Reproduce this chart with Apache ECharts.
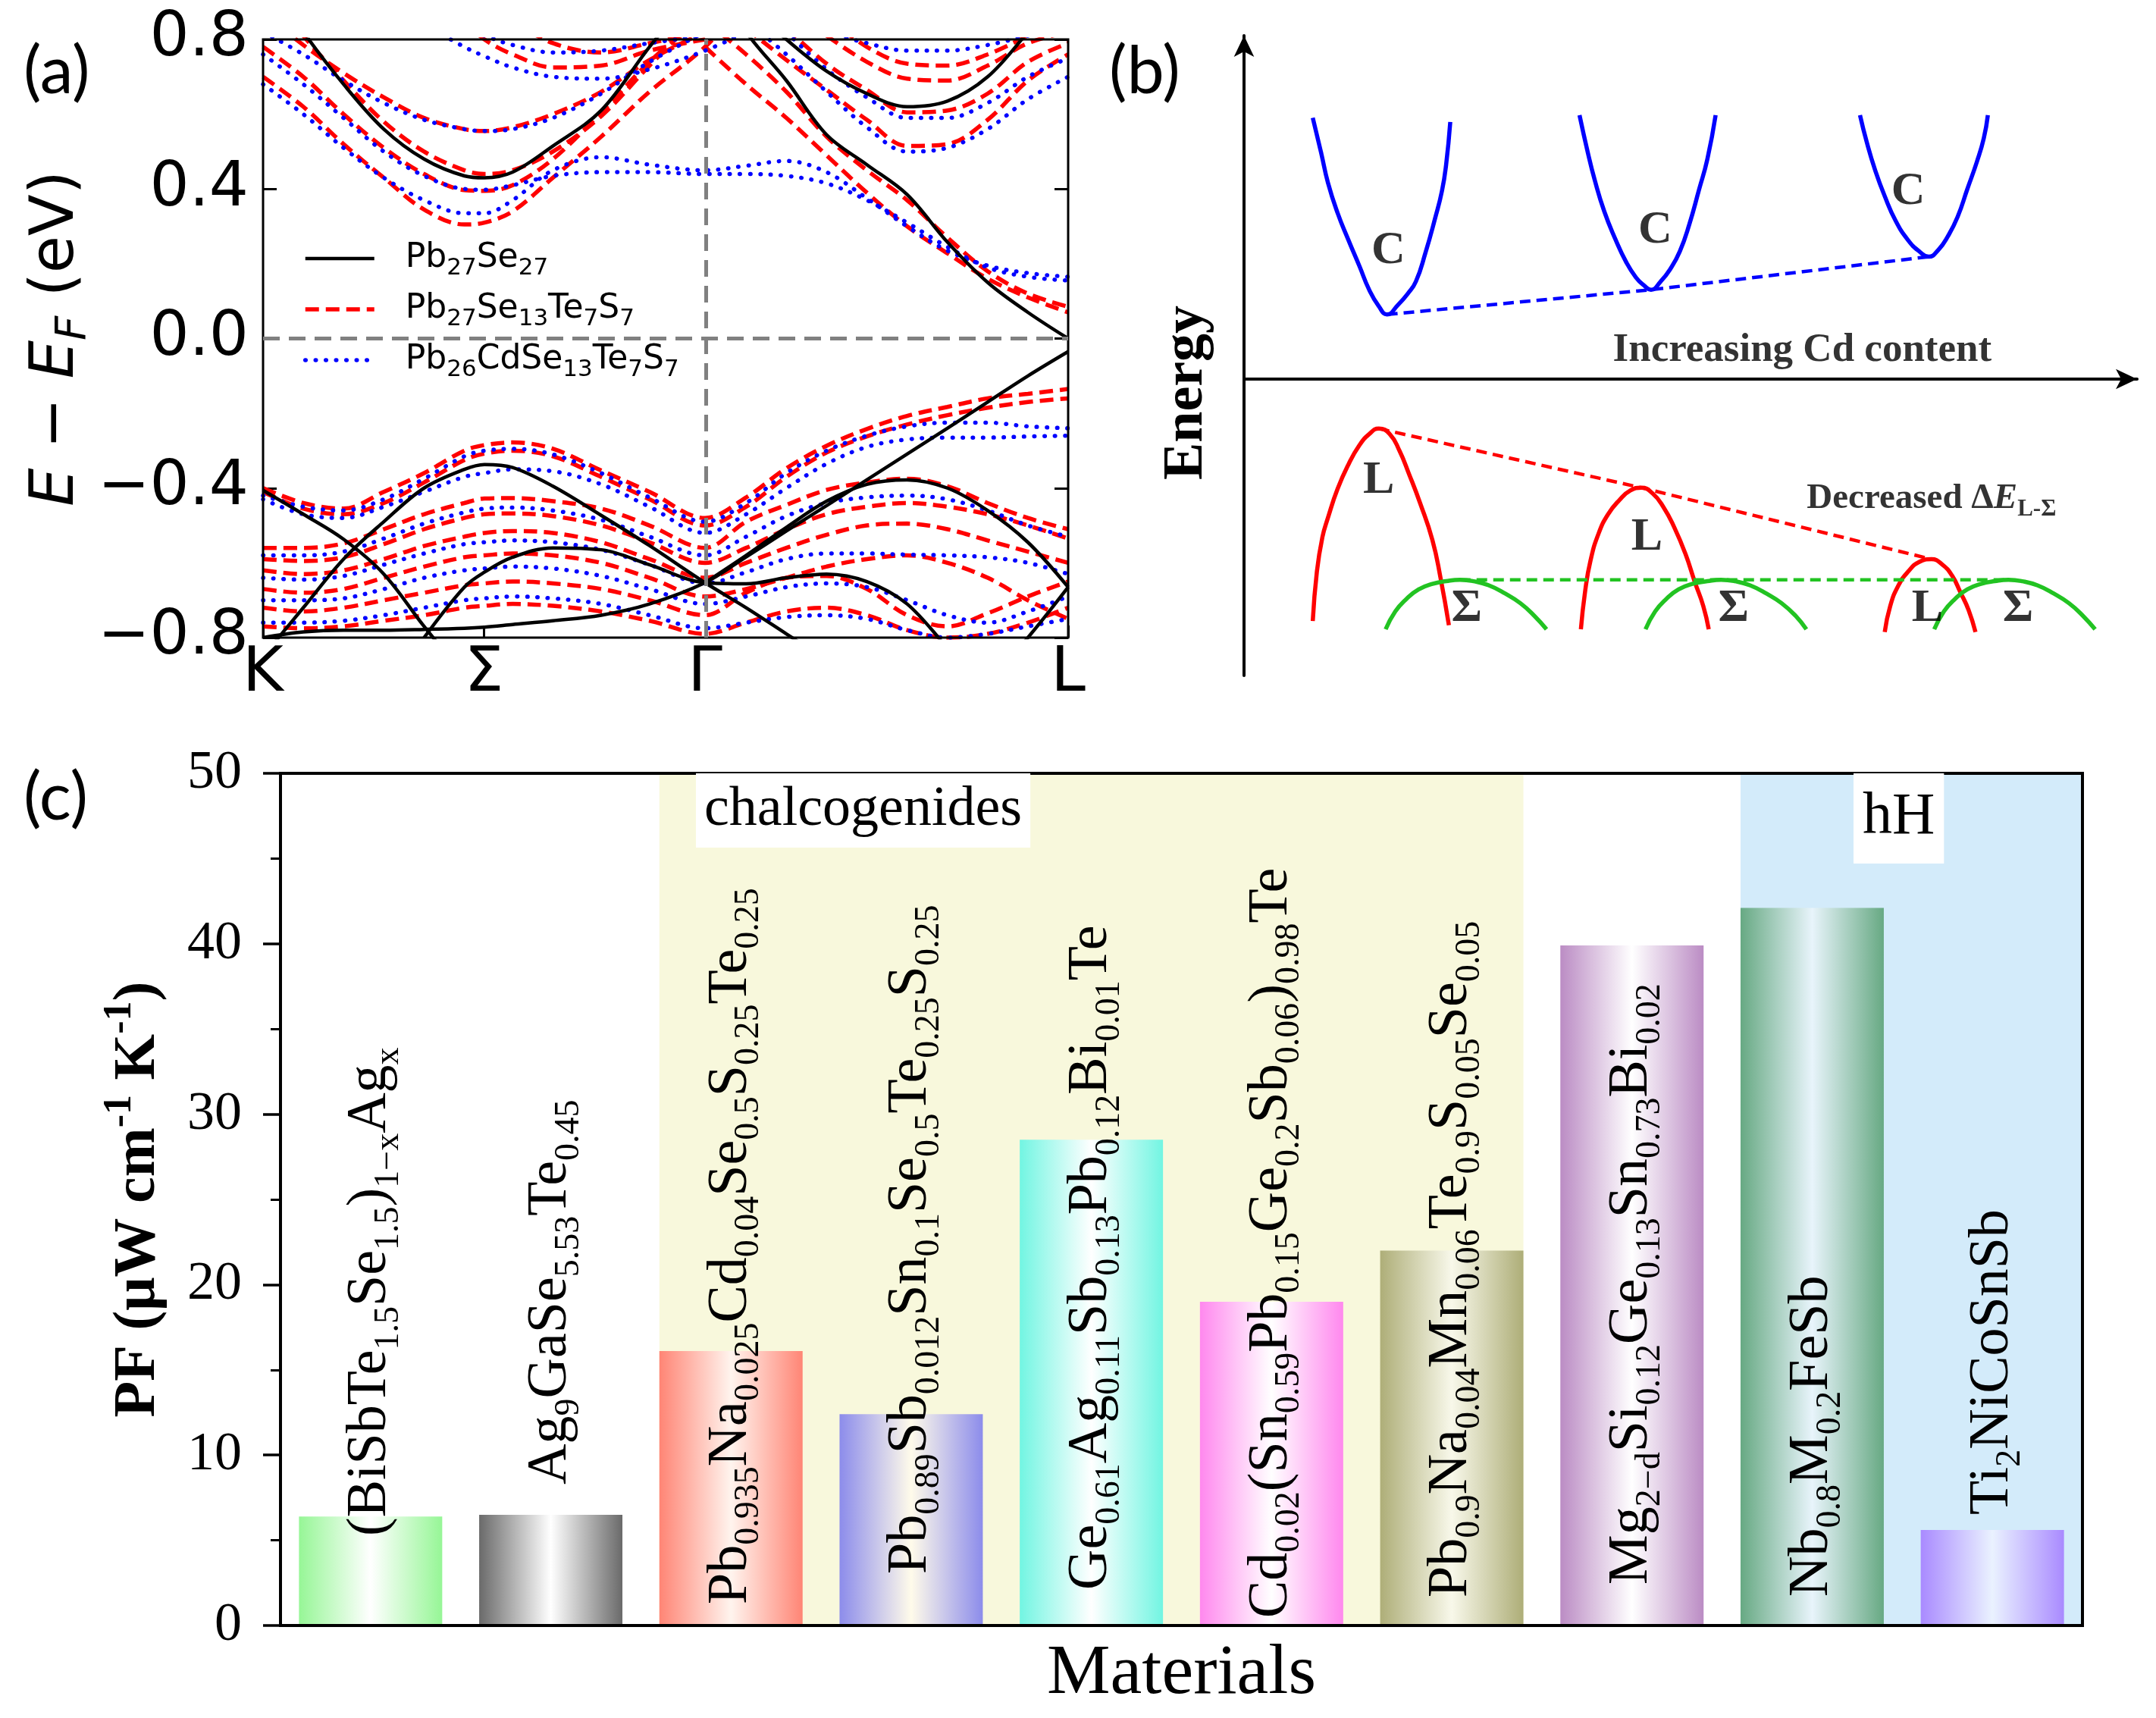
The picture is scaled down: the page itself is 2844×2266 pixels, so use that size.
<!DOCTYPE html>
<html>
<head>
<meta charset="utf-8">
<script src="https://cdn.jsdelivr.net/npm/echarts@6/dist/echarts.min.js"></script>
<style>html,body{margin:0;padding:0;background:#fff}#chart{width:2844px;height:2266px}</style>
</head>
<body>
<div id="chart"></div>
<script>
// ---------------- DATA ----------------
// (a) band structure: k-path positions and energies (eV)
const kPath = [0, 0.05, 0.10, 0.15, 0.20, 0.25, 0.275, 0.31, 0.36, 0.42, 0.48, 0.549, 0.60, 0.65, 0.70, 0.75, 0.80, 0.85, 0.90, 0.95, 1.0];
const kTickPos = [0, 0.2745, 0.549, 1];
const kTickNames = ['K', 'Σ', 'Γ', 'L'];
const n = null;
const bandsPb27Se27 = [
  [0.98,0.82,0.68,0.56,0.48,0.435,0.43,0.445,0.515,0.61,0.78,0.96,n,n,n,n,n,n,n,n,n],
  [n,n,n,n,n,n,n,n,n,n,n,1.0,0.82,0.69,0.545,0.465,0.385,0.258,0.15,0.07,0.0],
  [n,n,n,n,n,n,n,n,n,n,n,n,0.9,0.80,0.715,0.655,0.62,0.635,0.70,0.82,0.95],
  [-0.80,-0.785,-0.78,-0.78,-0.778,-0.775,-0.772,-0.765,-0.755,-0.74,-0.71,-0.653,-0.584,-0.515,-0.447,-0.378,-0.309,-0.24,-0.17,-0.10,-0.035],
  [-0.85,-0.72,-0.59,-0.49,-0.40,-0.35,-0.337,-0.345,-0.395,-0.473,-0.554,-0.653,-0.72,-0.79,-0.86,n,n,n,n,n,n],
  [-0.406,-0.47,-0.537,-0.63,-0.77,-0.9,n,n,n,n,n,n,n,n,n,n,n,n,n,n,n],
  [n,n,n,n,-0.80,-0.665,-0.625,-0.585,-0.56,-0.565,-0.605,-0.653,-0.656,-0.64,-0.63,-0.65,-0.71,-0.83,n,n,n],
  [n,n,n,n,n,n,n,n,n,n,n,-0.653,-0.58,-0.505,-0.435,-0.39,-0.378,-0.40,-0.46,-0.545,-0.665],
  [n,n,n,n,n,n,n,n,n,n,n,n,n,n,n,n,n,n,-0.92,-0.80,-0.665]
];
const bandsPb27Se13Te7S7 = [
  [0.70,0.62,0.52,0.43,0.345,0.305,0.31,0.34,0.43,0.54,0.66,0.78,0.9,n,n,n,n,n,n,n,n],
  [0.78,0.70,0.60,0.51,0.44,0.397,0.395,0.41,0.48,0.605,0.74,0.87,n,n,n,n,n,n,n,n,n],
  [0.95,0.81,0.69,0.58,0.50,0.45,0.44,0.45,0.50,0.595,0.73,0.88,n,n,n,n,n,n,n,n,n],
  [0.87,0.785,0.71,0.645,0.59,0.56,0.555,0.565,0.60,0.66,0.745,0.82,n,n,n,n,n,n,n,n,n],
  [n,n,n,n,n,0.85,0.80,0.76,0.725,0.73,0.77,0.80,n,n,n,n,n,n,n,n,n],
  [n,n,n,n,n,n,n,0.85,0.79,0.765,0.79,0.82,n,n,n,n,n,n,n,n,n],
  [n,n,n,n,n,n,n,n,n,n,n,0.78,0.68,0.59,0.49,0.39,0.30,0.228,0.16,0.11,0.07],
  [n,n,n,n,n,n,n,n,n,n,n,0.85,0.76,0.66,0.54,0.45,0.37,0.27,0.18,0.12,0.085],
  [n,n,n,n,n,n,n,n,n,n,n,n,0.83,0.745,0.665,0.585,0.515,0.52,0.585,0.69,0.76],
  [n,n,n,n,n,n,n,n,n,n,n,n,n,0.83,0.735,0.665,0.605,0.61,0.655,0.74,0.79],
  [n,n,n,n,n,n,n,n,n,n,n,n,n,n,0.81,0.74,0.695,0.69,0.73,0.79,0.82],
  [n,n,n,n,n,n,n,n,n,n,n,n,n,n,0.86,0.78,0.735,0.73,0.76,0.81,n],
  [-0.40,-0.44,-0.455,-0.41,-0.36,-0.30,-0.285,-0.278,-0.295,-0.353,-0.41,-0.48,-0.425,-0.347,-0.287,-0.242,-0.207,-0.183,-0.16,-0.148,-0.135],
  [-0.41,-0.455,-0.47,-0.44,-0.385,-0.325,-0.308,-0.30,-0.315,-0.37,-0.43,-0.50,-0.45,-0.37,-0.305,-0.262,-0.23,-0.205,-0.185,-0.17,-0.16],
  [-0.56,-0.56,-0.548,-0.51,-0.47,-0.44,-0.428,-0.427,-0.435,-0.455,-0.50,-0.56,-0.49,-0.445,-0.405,-0.385,-0.375,-0.395,-0.44,-0.48,-0.51],
  [-0.59,-0.595,-0.585,-0.55,-0.51,-0.48,-0.47,-0.468,-0.475,-0.50,-0.545,-0.60,-0.56,-0.51,-0.47,-0.45,-0.44,-0.45,-0.47,-0.50,-0.535],
  [-0.62,-0.63,-0.62,-0.59,-0.555,-0.53,-0.52,-0.515,-0.52,-0.545,-0.59,-0.64,-0.60,-0.56,-0.525,-0.50,-0.495,-0.51,-0.54,-0.57,-0.60],
  [-0.67,-0.68,-0.67,-0.64,-0.61,-0.585,-0.58,-0.575,-0.58,-0.60,-0.64,-0.69,-0.67,-0.64,-0.61,-0.59,-0.58,-0.60,-0.64,-0.70,-0.75],
  [-0.72,-0.73,-0.72,-0.70,-0.68,-0.66,-0.655,-0.65,-0.655,-0.67,-0.70,-0.74,-0.68,-0.64,-0.635,-0.67,-0.74,-0.77,-0.735,-0.69,-0.65],
  [-0.77,-0.775,-0.77,-0.755,-0.74,-0.72,-0.715,-0.71,-0.715,-0.73,-0.755,-0.79,-0.76,-0.73,-0.72,-0.74,-0.78,-0.80,-0.79,-0.76,-0.72]
];
const bandsPb26CdSe13Te7S7 = [
  [0.68,0.60,0.51,0.43,0.37,0.335,0.335,0.37,0.45,0.485,0.465,0.45,0.462,0.475,0.445,0.375,0.30,0.235,0.195,0.175,0.165],
  [0.76,0.68,0.59,0.50,0.435,0.40,0.398,0.41,0.435,0.445,0.445,0.44,0.44,0.435,0.415,0.37,0.31,0.245,0.19,0.165,0.155],
  [0.82,0.76,0.69,0.63,0.585,0.56,0.555,0.56,0.59,0.655,0.74,0.82,n,n,n,n,n,n,n,n,n],
  [n,n,n,n,0.84,0.78,0.755,0.725,0.70,0.695,0.72,0.77,0.82,n,n,n,n,n,n,n,n],
  [n,n,n,n,n,0.83,0.81,0.785,0.765,0.77,0.79,0.81,n,n,n,n,n,n,n,n,n],
  [n,n,n,n,n,n,n,n,n,n,n,n,0.85,0.76,0.66,0.565,0.50,0.51,0.56,0.64,0.70],
  [n,n,n,n,n,n,n,n,n,n,n,n,n,0.82,0.72,0.645,0.59,0.59,0.63,0.70,0.75],
  [n,n,n,n,n,n,n,n,n,n,n,n,n,n,0.82,0.79,0.77,0.77,0.785,0.81,n],
  [-0.42,-0.45,-0.46,-0.43,-0.375,-0.315,-0.30,-0.295,-0.31,-0.36,-0.425,-0.49,-0.44,-0.36,-0.30,-0.26,-0.235,-0.225,-0.225,-0.235,-0.24],
  [-0.43,-0.47,-0.48,-0.45,-0.41,-0.37,-0.36,-0.35,-0.355,-0.39,-0.45,-0.52,-0.47,-0.40,-0.335,-0.29,-0.27,-0.265,-0.265,-0.262,-0.26],
  [-0.58,-0.58,-0.57,-0.535,-0.495,-0.465,-0.455,-0.452,-0.46,-0.485,-0.53,-0.58,-0.53,-0.475,-0.44,-0.425,-0.42,-0.43,-0.46,-0.50,-0.53],
  [-0.64,-0.645,-0.635,-0.605,-0.575,-0.55,-0.545,-0.54,-0.545,-0.565,-0.605,-0.655,-0.625,-0.59,-0.575,-0.575,-0.578,-0.58,-0.585,-0.60,-0.63],
  [-0.70,-0.70,-0.695,-0.67,-0.64,-0.62,-0.615,-0.61,-0.615,-0.635,-0.67,-0.71,-0.69,-0.665,-0.655,-0.665,-0.70,-0.74,-0.76,-0.73,-0.69],
  [-0.76,-0.76,-0.755,-0.74,-0.72,-0.70,-0.695,-0.69,-0.695,-0.71,-0.74,-0.775,-0.76,-0.745,-0.74,-0.75,-0.78,-0.80,-0.79,-0.77,-0.75]
];
const legendNames = ['Pb27Se27', 'Pb27Se13Te7S7', 'Pb26CdSe13Te7S7'];
const legendMarkup = ['Pb_{27}Se_{27}', 'Pb_{27}Se_{13}Te_{7}S_{7}', 'Pb_{26}CdSe_{13}Te_{7}S_{7}'];

// (b) schematic: curve points in schematic units
const conductionValleys = [
  [[50,190],[56,165],[61,143],[68,121],[76,101],[84,82],[91,65],[98,53],[104,47],[112,54],[119,62],[125,71],[132,92],[139,117],[144,137],[147,156],[150,187]],
  [[244,192],[250,165],[255,145],[262,122],[270,102],[278,85],[285,74],[291,68],[296,65],[303,71],[310,80],[317,93],[324,113],[331,138],[337,160],[343,192]],
  [[448,192],[453,172],[459,152],[466,133],[474,115],[483,101],[491,93],[498,89],[505,94],[512,104],[519,118],[526,138],[533,158],[538,175],[541,192]]
];
const lBands = [
  [[50,-176],[53,-140],[57,-115],[61,-101],[68,-80],[76,-62],[84,-48],[91,-40],[98,-36],[106,-40],[113,-52],[120,-69],[128,-90],[137,-117],[143,-145],[149,-179]],
  [[245,-182],[248,-155],[252,-132],[258,-112],[265,-98],[273,-88],[281,-81],[289,-79],[297,-83],[305,-93],[313,-108],[321,-127],[328,-148],[334,-165],[338,-182]],
  [[466,-184],[470,-165],[476,-150],[483,-140],[491,-133],[500,-131],[508,-135],[515,-143],[521,-155],[527,-168],[532,-184]]
];
const sigmaBands = [
  [[103,-182],[110,-169],[118,-160],[127,-153],[137,-149],[147,-147],[157,-146],[167,-147],[178,-150],[190,-156],[201,-163],[211,-172],[220,-182]],
  [[292,-182],[299,-169],[307,-160],[316,-153],[326,-149],[337,-147],[347,-146],[357,-147],[368,-150],[380,-156],[391,-163],[401,-172],[409,-182]],
  [[502,-182],[509,-169],[517,-160],[526,-153],[536,-149],[546,-147],[556,-146],[566,-147],[577,-150],[589,-156],[600,-163],[610,-172],[619,-182]]
];
const schematicLabels = [
  [105, 93, 'C'], [299, 108, 'C'], [483, 136, 'C'],
  [98, -74, 'L'], [293, -115, 'L'], [497, -167, 'L'],
  [162, -167, 'Σ'], [356, -167, 'Σ'], [563, -167, 'Σ'],
  [406, 21, 'Increasing Cd content'],
  [500, -87, 'Decreased ΔE_{L-Σ}']
];

// (c) power factor bar chart
const materials = [
  '(BiSbTe_{1.5}Se_{1.5})_{1−x}Ag_{x}',
  'Ag_{9}GaSe_{5.53}Te_{0.45}',
  'Pb_{0.935}Na_{0.025}Cd_{0.04}Se_{0.5}S_{0.25}Te_{0.25}',
  'Pb_{0.89}Sb_{0.012}Sn_{0.1}Se_{0.5}Te_{0.25}S_{0.25}',
  'Ge_{0.61}Ag_{0.11}Sb_{0.13}Pb_{0.12}Bi_{0.01}Te',
  'Cd_{0.02}(Sn_{0.59}Pb_{0.15}Ge_{0.2}Sb_{0.06})_{0.98}Te',
  'Pb_{0.9}Na_{0.04}Mn_{0.06}Te_{0.9}S_{0.05}Se_{0.05}',
  'Mg_{2−d}Si_{0.12}Ge_{0.13}Sn_{0.73}Bi_{0.02}',
  'Nb_{0.8}M_{0.2}FeSb',
  'Ti_{2}NiCoSnSb'
];
const pfValues = [6.4, 6.5, 16.1, 12.4, 28.5, 19.0, 22.0, 39.9, 42.1, 5.6];
const groupChalcogenides = [2, 6];   // first and last material index
const groupHH = [8, 9];
const yTicksPF = [0, 50, 10];        // min, max, interval

// ---------------- STYLE ----------------
const SERIF = 'Liberation Serif';
const SANS = 'DejaVu Sans';
const TAGF = 'Lato';
const barEdge = ['#96f696','#6a6a6a','#ff8575','#8c8ceb','#72f5e2','#ff88ee','#aeae78','#bb8cc4','#67a983','#a98aff'];
const barMid  = ['#ffffff','#ffffff','#fff4ee','#fffbea','#ffffff','#ffffff','#f8f8ea','#ffffff','#e8f4fb','#eaf2ff'];
const labelLift = [118, 186, 28, 68, 47, 10, 37, 54, 38, 146];
const BAR_FRAC = 0.795;
const bandStyles = [
  { color: '#000000', width: 4.5, type: 'solid' },
  { color: '#ff0000', width: 5.5, type: [18, 9] },
  { color: '#0000ff', width: 5.5, type: [0.5, 13], cap: 'round' }
];

function markup(s, nKey, sKey, pKey) {
  nKey = nKey || 'n'; sKey = sKey || 's'; pKey = pKey || 'p';
  const re = /([_^])\{([^}]*)\}/g;
  let out = '', last = 0, m;
  while ((m = re.exec(s))) {
    if (m.index > last) out += '{' + nKey + '|' + s.slice(last, m.index) + '}';
    out += '{' + (m[1] === '_' ? sKey : pKey) + '|' + m[2] + '}';
    last = re.lastIndex;
  }
  if (last < s.length) out += '{' + nKey + '|' + s.slice(last) + '}';
  return out;
}
function plain(s) { return s.replace(/[_^]\{([^}]*)\}/g, '$1'); }

// ---------------- SERIES ----------------
const series = [];
function addBands(bands, name, lineStyle) {
  bands.forEach((b) => {
    series.push({
      type: 'line', name: name, xAxisIndex: 0, yAxisIndex: 0,
      data: kPath.map((k, i) => [k, b[i]]),
      symbol: 'none', showSymbol: false, smooth: 0.35, connectNulls: false,
      itemStyle: { color: lineStyle.color },
      lineStyle: lineStyle, silent: true, animation: false, clip: true, z: 2
    });
  });
}
// Fermi level and Γ guide lines
series.push({
  type: 'line', xAxisIndex: 0, yAxisIndex: 0, data: [], silent: true, z: 1,
  markLine: {
    silent: true, symbol: 'none', animation: false,
    label: { show: false },
    lineStyle: { color: '#808080', width: 5, type: [22, 12] },
    data: [{ xAxis: kTickPos[2] }, { yAxis: 0 }]
  }
});
addBands(bandsPb27Se13Te7S7, legendNames[1], bandStyles[1]);
addBands(bandsPb26CdSe13Te7S7, legendNames[2], bandStyles[2]);
addBands(bandsPb27Se27, legendNames[0], bandStyles[0]);

// (b) schematic curves
function addCurves(curves, color) {
  curves.forEach((c) => {
    series.push({
      type: 'line', xAxisIndex: 1, yAxisIndex: 2, data: c, symbol: 'none',
      smooth: 0.5, silent: true, animation: false, lineStyle: { color: color, width: 5.5 }
    });
  });
}
addCurves(conductionValleys, '#0000ff');
addCurves(lBands, '#ff0000');
addCurves(sigmaBands, '#22c322');
function extremePoint(c, useMax) {
  return c.reduce((a, p) => (useMax ? (p[1] > a[1] ? p : a) : (p[1] < a[1] ? p : a)));
}
const trendLines = [
  [conductionValleys.map(c => extremePoint(c, false)), '#0000ff'],
  [lBands.map(c => extremePoint(c, true)), '#ff0000'],
  [[extremePoint(sigmaBands[0], true), extremePoint(sigmaBands[2], true)], '#22c322']
];
trendLines.forEach(([pts, color]) => {
  series.push({
    type: 'line', xAxisIndex: 1, yAxisIndex: 2, data: pts, symbol: 'none', silent: true,
    animation: false, lineStyle: { color: color, width: 4.5, type: [14, 8] }, z: 3
  });
});
series.push({
  type: 'scatter', xAxisIndex: 1, yAxisIndex: 2, symbolSize: 0, silent: true, animation: false, z: 5,
  data: schematicLabels.map(l => ({ value: [l[0], l[1]], name: l[2] })),
  label: {
    show: true, position: 'inside', color: '#000',
    formatter: (p) => {
      const t = p.name;
      if (t.length === 1) return '{big|' + t + '}';
      if (t.indexOf('Δ') >= 0) return '{mid|Decreased Δ}{midi|E}{sub|L-Σ}';
      return '{lab|' + t + '}';
    },
    rich: {
      big: { fontFamily: SERIF, fontWeight: 'bold', fontSize: 62, color: '#000' },
      lab: { fontFamily: SERIF, fontWeight: 'bold', fontSize: 53, color: '#000' },
      mid: { fontFamily: SERIF, fontWeight: 'bold', fontSize: 47, lineHeight: 60, verticalAlign: 'middle', color: '#000' },
      midi: { fontFamily: SERIF, fontWeight: 'bold', fontStyle: 'italic', fontSize: 47, lineHeight: 60, verticalAlign: 'middle', color: '#000' },
      sub: { fontFamily: SERIF, fontWeight: 'bold', fontSize: 31, lineHeight: 30, verticalAlign: 'bottom', color: '#000' }
    }
  }
});

// (c) group backgrounds on a hidden value axis (category i spans [i, i+1])
const half = (1 - BAR_FRAC) / 2;
series.push({
  type: 'line', xAxisIndex: 3, yAxisIndex: 3, data: [], silent: true, z: -1,
  markArea: {
    silent: true, animation: false,
    data: [
      [{ xAxis: groupChalcogenides[0] + half, yAxis: yTicksPF[0], itemStyle: { color: '#f8f8dc' } },
       { xAxis: groupChalcogenides[1] + 1 - half, yAxis: yTicksPF[1] }],
      [{ xAxis: groupHH[0] + half, yAxis: yTicksPF[0], itemStyle: { color: '#d3ebfa' } },
       { xAxis: groupHH[1] + 1, yAxis: yTicksPF[1] }]
    ]
  }
});
series.push({
  type: 'bar', xAxisIndex: 2, yAxisIndex: 3, barCategoryGap: ((1 - BAR_FRAC) * 100) + '%',
  animation: false, silent: true, z: 2,
  data: pfValues.map((v, i) => ({
    value: v,
    itemStyle: {
      color: { type: 'linear', x: 0, y: 0, x2: 1, y2: 0,
        colorStops: [{ offset: 0, color: barEdge[i] }, { offset: 0.5, color: barMid[i] }, { offset: 1, color: barEdge[i] }] }
    },
    label: { distance: labelLift[i] }
  })),
  label: {
    show: true, position: 'insideBottom', rotate: 90, align: 'left', verticalAlign: 'middle',
    formatter: (p) => markup(materials[p.dataIndex]),
    rich: {
      n: { fontFamily: SERIF, fontSize: 74, lineHeight: 94, verticalAlign: 'middle', color: '#000' },
      s: { fontFamily: SERIF, fontSize: 46, lineHeight: 46, verticalAlign: 'bottom', color: '#000' }
    }
  }
});

// ---------------- OPTION ----------------
const option = {
  backgroundColor: '#ffffff',
  animation: false,
  title: [
    { text: '(a)', left: 26, top: 46, textStyle: { fontFamily: TAGF, fontWeight: 'normal', fontSize: 88, color: '#000' } },
    { text: '(b)', left: 1458, top: 46, textStyle: { fontFamily: TAGF, fontWeight: 'normal', fontSize: 88, color: '#000' } },
    { text: '(c)', left: 26, top: 1004, textStyle: { fontFamily: TAGF, fontWeight: 'normal', fontSize: 88, color: '#000' } },
    { text: 'chalcogenides', left: 918, top: 1020, backgroundColor: '#ffffff', padding: [12, 11, 12, 11], z: 20,
      textStyle: { fontFamily: SERIF, fontWeight: 'normal', fontSize: 74, lineHeight: 74, color: '#000' } },
    { text: 'hH', left: 2445, top: 1020, backgroundColor: '#ffffff', padding: [20, 12, 21, 12], z: 20,
      textStyle: { fontFamily: SERIF, fontWeight: 'normal', fontSize: 78, lineHeight: 78, color: '#000' } }
  ],
  legend: {
    data: legendNames.map((nm, i) => ({ name: nm, lineStyle: Object.assign({}, bandStyles[i]) })),
    orient: 'vertical', left: 395, top: 314,
    itemWidth: 91, itemHeight: 14, itemGap: 17, selectedMode: false,
    itemStyle: { opacity: 0 },
    formatter: (name) => markup(legendMarkup[legendNames.indexOf(name)]),
    textStyle: {
      padding: [0, 0, 0, 36],
      rich: {
        n: { fontFamily: SANS, fontSize: 44, lineHeight: 56, verticalAlign: 'middle', color: '#000' },
        s: { fontFamily: SANS, fontSize: 31, lineHeight: 30, verticalAlign: 'bottom', color: '#000' }
      }
    }
  },
  grid: [
    { left: 347, top: 52, width: 1062, height: 789, show: true, borderColor: '#000', borderWidth: 3, z: 3, backgroundColor: 'transparent' },
    { left: 1641, top: 47, width: 1178, height: 844 },
    { left: 370, top: 1020, width: 2377, height: 1124, show: true, borderColor: '#000', borderWidth: 4, z: 3, backgroundColor: 'transparent' }
  ],
  xAxis: [
    { type: 'value', gridIndex: 0, min: 0, max: 1, position: 'bottom',
      axisLine: { show: false, onZero: false }, splitLine: { show: false },
      axisTick: { show: true, inside: true, length: 16, customValues: kTickPos, lineStyle: { color: '#000', width: 3 } },
      axisLabel: { show: true, margin: 8, customValues: kTickPos, fontFamily: SANS, fontSize: 82, color: '#000',
        formatter: (v) => { const i = kTickPos.findIndex(t => Math.abs(t - v) < 1e-6); return i >= 0 ? kTickNames[i] : ''; } } },
    { type: 'value', gridIndex: 1, min: 0, max: 649.5,
      axisLine: { show: true, onZero: true, symbol: ['none', 'arrow'], symbolSize: [20, 28], lineStyle: { color: '#000', width: 4 } },
      axisTick: { show: false }, axisLabel: { show: false }, splitLine: { show: false } },
    { type: 'category', gridIndex: 2, data: materials.map(plain),
      axisLine: { show: false }, axisTick: { show: false }, axisLabel: { show: false },
      name: 'Materials', nameLocation: 'middle', nameGap: 14,
      nameTextStyle: { fontFamily: SERIF, fontSize: 94, lineHeight: 100, color: '#000' } },
    { type: 'value', gridIndex: 2, min: 0, max: materials.length, show: false }
  ],
  yAxis: [
    { type: 'value', gridIndex: 0, min: -0.8, max: 0.8, interval: 0.4,
      axisLine: { show: false, onZero: false }, splitLine: { show: false },
      axisTick: { show: true, inside: true, length: 18, lineStyle: { color: '#000', width: 3 } },
      axisLabel: { margin: 19, fontFamily: SANS, fontSize: 82, color: '#000',
        formatter: (v) => (Math.abs(v) < 1e-9 ? '0.0' : (v < 0 ? '−' : '') + Math.abs(v).toFixed(1)) },
      name: '{i|E}{n| − }{i|E}{fs|F}{n| (eV)}', nameLocation: 'middle', nameGap: 222,
      nameTextStyle: { rich: {
        i: { fontFamily: SANS, fontStyle: 'italic', fontSize: 80, lineHeight: 100, verticalAlign: 'middle', color: '#000' },
        n: { fontFamily: SANS, fontSize: 80, lineHeight: 100, verticalAlign: 'middle', color: '#000' },
        fs: { fontFamily: SANS, fontStyle: 'italic', fontSize: 56, lineHeight: 56, verticalAlign: 'bottom', color: '#000' }
      } } },
    { type: 'value', gridIndex: 0, position: 'right', min: -0.8, max: 0.8, interval: 0.4,
      axisLine: { show: false, onZero: false }, splitLine: { show: false }, axisLabel: { show: false },
      axisTick: { show: true, inside: true, length: 18, lineStyle: { color: '#000', width: 3 } } },
    { type: 'value', gridIndex: 1, min: -215.6, max: 249.8,
      axisLine: { show: true, onZero: true, symbol: ['none', 'arrow'], symbolSize: [20, 28], lineStyle: { color: '#000', width: 4 } },
      axisTick: { show: false }, axisLabel: { show: false }, splitLine: { show: false },
      name: 'Energy', nameLocation: 'middle', nameGap: 38,
      nameTextStyle: { fontFamily: SERIF, fontWeight: 'bold', fontSize: 74, lineHeight: 74, color: '#000', padding: [0, 98, 0, 0] } },
    { type: 'value', gridIndex: 2, min: yTicksPF[0], max: yTicksPF[1], interval: yTicksPF[2],
      axisLine: { show: true, onZero: false, lineStyle: { color: '#000', width: 4 } },
      axisTick: { show: true, inside: false, length: 23, lineStyle: { color: '#000', width: 3.5 } },
      minorTick: { show: true, splitNumber: 2, length: 13, lineStyle: { color: '#000', width: 3 } },
      splitLine: { show: false },
      axisLabel: { margin: 51, fontFamily: SERIF, fontSize: 72, color: '#000' },
      name: '{n|PF (μW cm}{p|-1}{n| K}{p|-1}{n|)}', nameLocation: 'middle', nameGap: 137,
      nameTextStyle: { rich: {
        n: { fontFamily: SERIF, fontWeight: 'bold', fontSize: 78, lineHeight: 100, verticalAlign: 'middle', color: '#000' },
        p: { fontFamily: SERIF, fontWeight: 'bold', fontSize: 52, lineHeight: 52, verticalAlign: 'top', color: '#000' }
      } } }
  ],
  series: series
};

const chart = echarts.init(document.getElementById('chart'), null, { renderer: 'canvas', width: 2844, height: 2266 });
chart.setOption(option);
</script>
</body>
</html>
